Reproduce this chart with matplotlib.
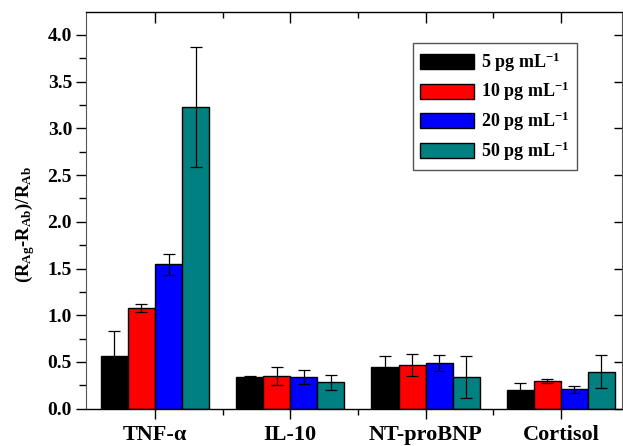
import matplotlib
matplotlib.use("Agg")
import matplotlib.pyplot as plt
import numpy as np
from matplotlib.ticker import MultipleLocator, FixedLocator

categories = ["TNF-\u03b1", "IL-10", "NT-proBNP", "Cortisol"]
series_labels = ["5", "10", "20", "50"]
vals_5 = [0.56, 0.336, 0.443, 0.20]
vals_10 = [1.074, 0.35, 0.467, 0.296]
vals_20 = [1.544, 0.339, 0.489, 0.21]
vals_50 = [3.23, 0.282, 0.339, 0.396]
err_5 = [0.27, 0.01, 0.12, 0.07]
err_10 = [0.042, 0.095, 0.117, 0.023]
err_20 = [0.11, 0.07, 0.088, 0.038]
err_50 = [0.645, 0.08, 0.22, 0.178]

colors = ["#000000", "#ff0000", "#0000ff", "#008080"]

plt.rcParams["font.family"] = ["Liberation Serif", "DejaVu Serif"]
plt.rcParams["font.weight"] = "bold"
plt.rcParams["mathtext.fontset"] = "custom"
plt.rcParams["mathtext.rm"] = "Liberation Serif:bold"
plt.rcParams["mathtext.bf"] = "Liberation Serif:bold"
plt.rcParams["mathtext.it"] = "Liberation Serif:bold"

fig = plt.figure(figsize=(6.23, 4.46), dpi=100)
ax = fig.add_axes([0.138, 0.0836, 0.86, 0.889])

x = np.arange(len(categories))
width = 0.2
offsets = [-0.3, -0.1, 0.1, 0.3]
all_vals = [vals_5, vals_10, vals_20, vals_50]
all_errs = [err_5, err_10, err_20, err_50]
for i in range(4):
    ax.bar(x + offsets[i], all_vals[i], width, color=colors[i], edgecolor="black",
           linewidth=1.0, label=series_labels[i] + r" pg mL$^{\mathregular{-1}}$", zorder=2)
    ax.errorbar(x + offsets[i], all_vals[i], yerr=all_errs[i], fmt="none",
                ecolor="black", elinewidth=0.9, capsize=4, capthick=0.9, zorder=3)

ax.set_xlim(-0.51, 3.45)
ax.set_ylim(0, 4.243)
ax.set_xticks(x)
ax.set_xticklabels(categories, fontsize=16, fontweight="bold")
ax.xaxis.set_minor_locator(FixedLocator([0.5, 1.5, 2.5]))
ax.yaxis.set_minor_locator(MultipleLocator(0.25))
ax.set_yticks(np.arange(0, 4.01, 0.5))
ax.set_yticklabels([f"{v:.1f}" for v in np.arange(0, 4.01, 0.5)], fontsize=14, fontweight="bold")

ax.tick_params(axis="x", which="major", direction="out", length=7, width=1, top=True, pad=5)
ax.tick_params(axis="x", which="minor", direction="out", length=4, width=1, top=True)
ax.tick_params(axis="y", which="major", direction="out", length=7, width=1, right=True, pad=3)
ax.tick_params(axis="y", which="minor", direction="out", length=5, width=1)
# top / right ticks pointing inward
for t in ax.xaxis.get_major_ticks():
    t.tick2line.set_marker(3)
    t.tick2line.set_markersize(8)
for t in ax.xaxis.get_minor_ticks():
    t.tick2line.set_marker(3)
    t.tick2line.set_markersize(4)
for t in ax.yaxis.get_major_ticks():
    t.tick2line.set_marker(0)
    t.tick2line.set_markersize(6)

for s in ["left", "right"]:
    ax.spines[s].set_color("#555555")
ax.spines["top"].set_linewidth(1.0)
ax.spines["bottom"].set_linewidth(1.0)

ax.set_ylabel(r"(R$_{\mathregular{Ag}}$-R$_{\mathregular{Ab}}$)/R$_{\mathregular{Ab}}$",
              fontsize=13.5, fontweight="bold")
ax.yaxis.set_label_coords(-0.092, 0.465)

leg = ax.legend(loc="upper left", bbox_to_anchor=(0.61, 0.922), fontsize=13,
                frameon=True, fancybox=False, edgecolor="#555555", framealpha=1,
                handlelength=3.0, handleheight=0.9, handletextpad=0.4,
                borderpad=0.4, labelspacing=0.35, borderaxespad=0)
leg.get_frame().set_linewidth(1.0)

fig.savefig("out.png", dpi=100)
